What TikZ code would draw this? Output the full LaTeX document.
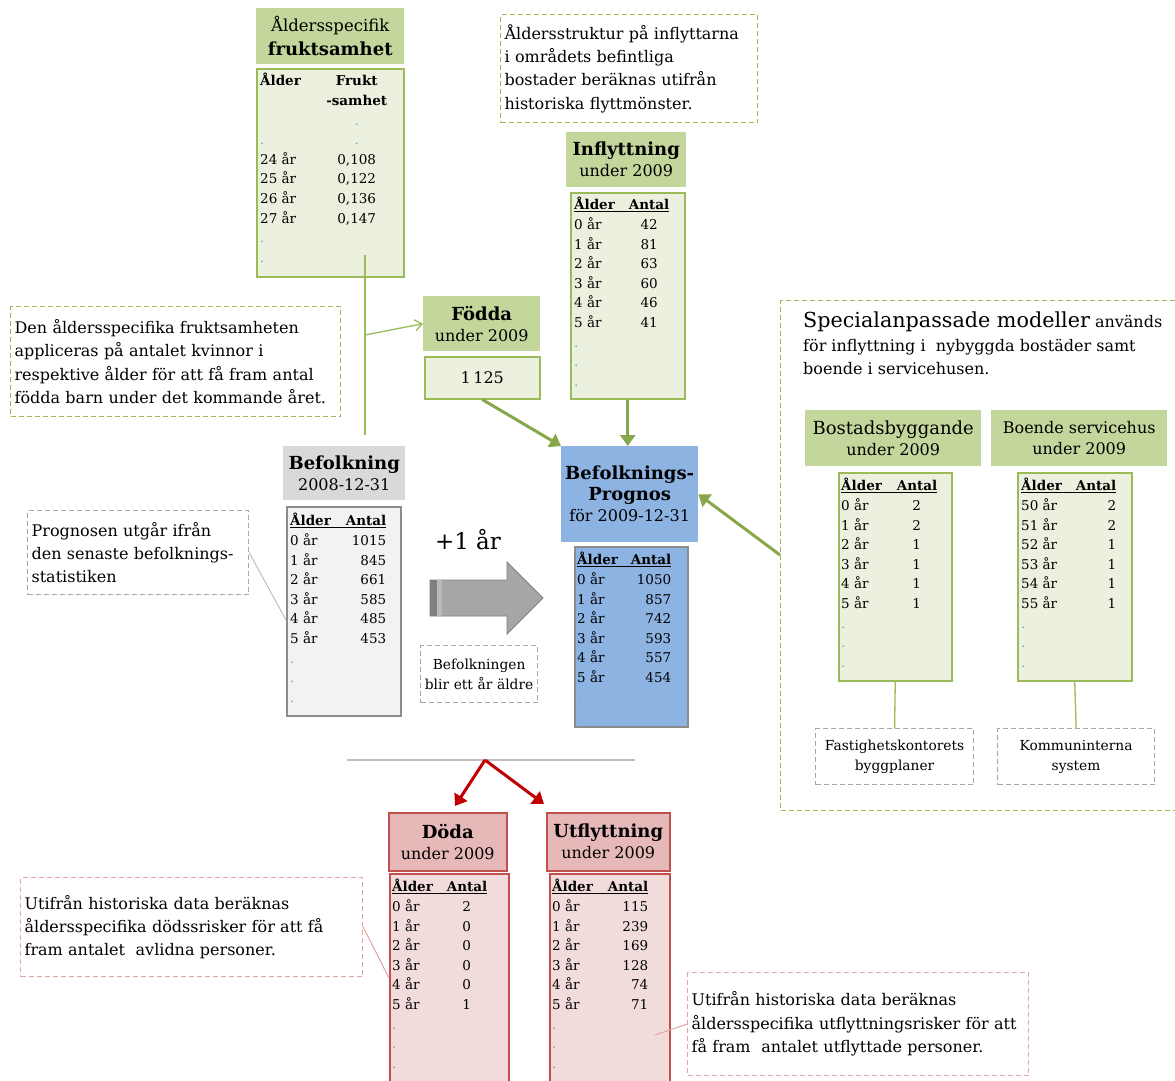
\documentclass[tikz,border=0pt]{standalone}
\usepackage{fontspec}
\setmainfont{DejaVu Serif}
\usepackage{array}
\usetikzlibrary{arrows.meta}

\definecolor{hdgreen}{HTML}{C3D69B}
\definecolor{tbgreen}{HTML}{EBF1DE}
\definecolor{olive}{HTML}{9BBB59}
\definecolor{arrgreen}{HTML}{86A84A}
\definecolor{hdgray}{HTML}{D9D9D9}
\definecolor{tbgray}{HTML}{F2F2F2}
\definecolor{edgray}{HTML}{8C8C8C}
\definecolor{dashgray}{HTML}{A6A6A6}
\definecolor{progblue}{HTML}{8DB3E2}
\definecolor{hdred}{HTML}{E6B9B8}
\definecolor{tbred}{HTML}{F2DCDB}
\definecolor{edred}{HTML}{C0504D}
\definecolor{arrred}{HTML}{C00000}
\definecolor{dashred}{HTML}{E3A3A3}
\definecolor{dotblue}{HTML}{7FA0C0}
\definecolor{blockgray}{HTML}{A6A6A6}
\definecolor{blockdark}{HTML}{7F7F7F}

\newcommand{\hdbig}{\fontsize{18}{21}\selectfont\bfseries}
\newcommand{\hdsub}{\fontsize{16}{21}\selectfont}
\newcommand{\notefont}{\fontsize{16}{23.4}\selectfont}
\newcommand{\smallnote}{\fontsize{13.8}{20}\selectfont}
\newcommand{\tabfont}{\fontsize{13.5}{19.6}\selectfont}
\newcommand{\dt}{\textcolor{dotblue}{.}}
\newcommand{\agehead}[1]{\multicolumn{2}{@{}l@{}}{\underline{\makebox[#1][l]{\bfseries Ålder\hfill Antal}}}\\}
\newcolumntype{C}[1]{>{\centering\arraybackslash}p{#1}}
\newcolumntype{R}[1]{>{\raggedleft\arraybackslash}p{#1}}

\begin{document}
\begin{tikzpicture}[x=1pt,y=-1pt,
    hd/.style={anchor=north west, inner sep=0pt, align=center, font=\hdsub},
    hdgreenbox/.style={hd, fill=hdgreen},
    hdgraybox/.style={hd, fill=hdgray},
    hdbluebox/.style={hd, fill=progblue},
    hdredbox/.style={hd, fill=hdred, draw=edred, line width=1.5pt},
    tab/.style={anchor=north west, inner sep=0pt, line width=1.5pt},
    tabgreen/.style={tab, fill=tbgreen, draw=olive},
    tabgray/.style={tab, fill=tbgray, draw=edgray},
    tabblue/.style={tab, fill=progblue, draw=edgray},
    tabred/.style={tab, fill=tbred, draw=edred},
    tabtext/.style={anchor=north west, inner sep=0pt, font=\tabfont},
    note/.style={draw, dash pattern=on 5pt off 3pt, line width=1.2pt, anchor=north west,
      align=left, inner xsep=4pt, inner ysep=0pt, font=\notefont},
    greennote/.style={note, draw=olive},
    graynote/.style={note, draw=dashgray},
    rednote/.style={note, draw=dashred},
    thinlink/.style={draw=olive, line width=1.3pt},
    graylink/.style={draw=lightgray, line width=1pt},
    redlink/.style={draw=dashred, line width=1pt},
    greenarrow/.style={draw=arrgreen, line width=3pt, -{Triangle[length=11pt,width=15pt]}},
    redarrow/.style={draw=arrred, line width=3pt, -{Triangle[length=11pt,width=15pt]}}]

\fill[white] (0,0) rectangle (1175,1080);
\useasboundingbox (0,0) rectangle (1175,1080);

% fruktsamhet
\node[hdgreenbox, minimum width=148, minimum height=56] (frhead) at (256,8)
  {{\fontsize{16.5}{21}\selectfont Åldersspecifik}\\[3pt]{\hdbig fruktsamhet}};
\node[tabgreen, minimum width=147, minimum height=208] (frtab) at (256,68) {};
\node[tabtext] (frtxt) at ([xshift=4pt,yshift=-4pt]frtab.north west)
  {\begin{tabular}{@{}p{65pt}@{}C{63pt}@{}}
  \textbf{Ålder} & \textbf{Frukt}\\
   & \textbf{-samhet}\\
   & \dt\\
  \dt & \dt\\
  24 år & 0,108\\
  25 år & 0,122\\
  26 år & 0,136\\
  27 år & 0,147\\
  \dt & \\
  \dt &
  \end{tabular}};
\coordinate (frtop) at (365,255);
\coordinate (frmid) at (365,335);
\coordinate (frfoot) at (365,435);
\draw[thinlink] (frtop) -- (frfoot);

\node[greennote, text width=322pt, minimum height=110] (notefr) at (10,306)
  {Den åldersspecifika fruktsamheten\\appliceras på antalet kvinnor i\\respektive ålder för att få fram antal\\födda barn under det kommande året.};

% fodda
\node[hdgreenbox, minimum width=117, minimum height=55] (fodhead) at (423,296)
  {{\hdbig Födda}\\under 2009};
\node[tabgreen, minimum width=115, minimum height=42, font=\fontsize{16}{18}\selectfont] (fodtab) at (424,356) {1\,125};
\draw[thinlink, -{Straight Barb[length=7pt,width=11pt]}] (frmid) -- (fodhead.west);

% inflyttning
\node[greennote, text width=249pt, minimum height=108] (notein) at (500,14)
  {Åldersstruktur på inflyttarna\\i områdets befintliga\\bostader beräknas utifrån\\historiska flyttmönster.};
\node[hdgreenbox, minimum width=120, minimum height=55] (inhead) at (566,132)
  {{\hdbig Inflyttning}\\under 2009};
\node[tabgreen, minimum width=114, minimum height=206] (intab) at (570,192) {};
\node[tabtext] (intxt) at ([xshift=4pt,yshift=-4pt]intab.north west)
  {\begin{tabular}{@{}p{55pt}@{}C{40pt}@{}}
  \agehead{95pt}
  0 år & 42\\
  1 år & 81\\
  2 år & 63\\
  3 år & 60\\
  4 år & 46\\
  5 år & 41\\
  \dt & \\
  \dt & \\
  \dt &
  \end{tabular}};

% befolkning
\node[hdgraybox, minimum width=122, minimum height=54] (befhead) at (283,446)
  {{\hdbig Befolkning}\\2008-12-31};
\node[tabgray, minimum width=114, minimum height=209] (beftab) at (286,506) {};
\node[tabtext] (beftxt) at ([xshift=4pt,yshift=-6pt]beftab.north west)
  {\begin{tabular}{@{}p{55pt}@{}R{41pt}@{}}
  \agehead{96pt}
  0 år & 1015\\
  1 år & 845\\
  2 år & 661\\
  3 år & 585\\
  4 år & 485\\
  5 år & 453\\
  \dt & \\
  \dt & \\
  \dt &
  \end{tabular}};
\node[graynote, text width=213pt, minimum height=84] (notebef) at (27,510)
  {Prognosen utgår ifrån\\den senaste befolknings-\\statistiken};
\coordinate (befpin) at (286,620);
\draw[graylink] (notebef.east) -- (befpin);

% aldrande
\node[font=\fontsize{23}{28}\selectfont] (plusone) at (468,540) {+1 år};
\filldraw[fill=blockgray, draw=blockdark, line width=0.8pt]
  (430,580) -- (507,580) -- (507,562) -- (543,598) -- (507,634) -- (507,616) -- (430,616) -- cycle;
\fill[blockdark] (430,580) rectangle (437,616);
\fill[gray!55] (437,580) rectangle (442,616);
\node[graynote, text width=109pt, minimum height=57, align=center, font=\smallnote] (noteage) at (420,645)
  {Befolkningen\\blir ett år äldre};

% prognos
\node[hdbluebox, minimum width=137, minimum height=96] (prohead) at (561,446)
  {{\hdbig Befolknings-}\\{\hdbig Prognos}\\för 2009-12-31};
\node[tabblue, minimum width=113, minimum height=180] (protab) at (574,546) {};
\node[tabtext] (protxt) at ([xshift=3pt,yshift=-5pt]protab.north west)
  {\begin{tabular}{@{}p{52pt}@{}R{42pt}@{}}
  \agehead{94pt}
  0 år & 1050\\
  1 år & 857\\
  2 år & 742\\
  3 år & 593\\
  4 år & 557\\
  5 år & 454\\
  \dt & \\
  \dt &
  \end{tabular}};

\draw[greenarrow] (fodtab.south) -- (prohead.north west);
\draw[greenarrow] (intab.south) -- (intab.south |- prohead.north);

% specialmodeller
\node[greennote, minimum width=410, minimum height=510] (notespec) at (780,300) {};
\node[anchor=north west, inner sep=0pt, align=left, font=\notefont] (spectxt) at (803,312)
  {{\fontsize{20.7}{24}\selectfont Specialanpassade modeller} används\\för inflyttning i\ \ nybyggda bostäder samt\\boende i servicehusen.};
\coordinate (specout) at (780,555);
\draw[greenarrow] (specout) -- (prohead.east);

\node[hdgreenbox, minimum width=176, minimum height=56] (boshead) at (805,410)
  {{\fontsize{18}{22}\selectfont Bostadsbyggande}\\under 2009};
\node[hdgreenbox, minimum width=176, minimum height=56] (boehead) at (991,410)
  {Boende servicehus\\under 2009};
\node[tabgreen, minimum width=113, minimum height=208] (bostab) at (838,472) {};
\node[tabtext] (bostxt) at ([xshift=3pt,yshift=-5pt]bostab.north west)
  {\begin{tabular}{@{}p{55pt}@{}C{41pt}@{}}
  \agehead{96pt}
  0 år & 2\\
  1 år & 2\\
  2 år & 1\\
  3 år & 1\\
  4 år & 1\\
  5 år & 1\\
  \dt & \\
  \dt & \\
  \dt &
  \end{tabular}};
\node[tabgreen, minimum width=114, minimum height=208] (boetab) at (1017,472) {};
\node[tabtext] (boetxt) at ([xshift=4pt,yshift=-5pt]boetab.north west)
  {\begin{tabular}{@{}p{55pt}@{}R{40pt}@{}}
  \agehead{95pt}
  50 år & 2\\
  51 år & 2\\
  52 år & 1\\
  53 år & 1\\
  54 år & 1\\
  55 år & 1\\
  \dt & \\
  \dt & \\
  \dt &
  \end{tabular}};
\node[graynote, text width=150pt, minimum height=56, align=center, font=\smallnote] (notefast) at (815,728)
  {Fastighetskontorets\\byggplaner};
\node[graynote, text width=149pt, minimum height=56, align=center, font=\smallnote] (notekomm) at (997,728)
  {Kommuninterna\\system};
\draw[thinlink] (bostab.south) -- (notefast.north);
\draw[thinlink] (boetab.south) -- (notekomm.north);

% utflode
\coordinate (splitl) at (347,760);
\coordinate (splitr) at (635,760);
\coordinate (split) at (485,760);
\coordinate (dodin) at (455,806);
\coordinate (utin) at (544,804);
\draw[draw=lightgray, line width=1.5pt] (splitl) -- (splitr);
\draw[redarrow] (split) -- (dodin);
\draw[redarrow] (split) -- (utin);

\node[hdredbox, minimum width=118, minimum height=58] (dodhead) at (388,812)
  {{\hdbig Döda}\\under 2009};
\node[hdredbox, minimum width=123, minimum height=58] (uthead) at (546,812)
  {{\hdbig Utflyttning}\\under 2009};
\node[tabred, minimum width=119, minimum height=215] (dodtab) at (389,873) {};
\node[tabtext] (dodtxt) at ([xshift=3pt,yshift=-5pt]dodtab.north west)
  {\begin{tabular}{@{}p{54pt}@{}C{41pt}@{}}
  \agehead{95pt}
  0 år & 2\\
  1 år & 0\\
  2 år & 0\\
  3 år & 0\\
  4 år & 0\\
  5 år & 1\\
  \dt & \\
  \dt & \\
  \dt &
  \end{tabular}};
\node[tabred, minimum width=120, minimum height=215] (uttab) at (549,873) {};
\node[tabtext] (uttxt) at ([xshift=3pt,yshift=-5pt]uttab.north west)
  {\begin{tabular}{@{}p{55pt}@{}R{41pt}@{}}
  \agehead{96pt}
  0 år & 115\\
  1 år & 239\\
  2 år & 169\\
  3 år & 128\\
  4 år & 74\\
  5 år & 71\\
  \dt & \\
  \dt & \\
  \dt &
  \end{tabular}};

\node[rednote, text width=334pt, minimum height=99] (notedod) at (20,877)
  {Utifrån historiska data beräknas\\åldersspecifika dödssrisker för att få\\fram antalet\ \ avlidna personer.};
\coordinate (dodpin) at (389,978);
\draw[redlink] (notedod.east) -- (dodpin);
\node[rednote, text width=333pt, minimum height=103] (noteut) at (687,972)
  {Utifrån historiska data beräknas\\åldersspecifika utflyttningsrisker för att\\få fram\ \ antalet utflyttade personer.};
\coordinate (utpin) at (655,1035);
\draw[redlink] (noteut.west) -- (utpin);

\end{tikzpicture}
\end{document}
